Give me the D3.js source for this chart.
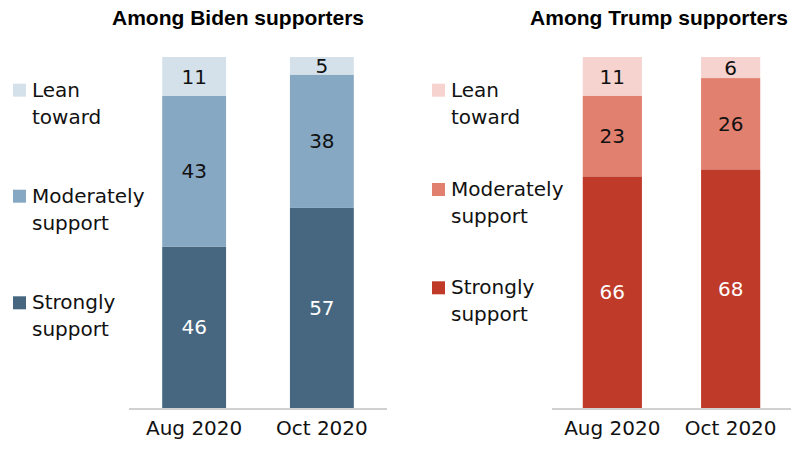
<!DOCTYPE html>
<html>
<head>
<meta charset="utf-8">
<script src="https://cdn.jsdelivr.net/npm/d3@7"></script>
<style>
  html, body { margin: 0; padding: 0; background: #fff; }
  svg { display: block; }
</style>
</head>
<body>
<svg id="chart" width="800" height="452"></svg>
<script>
// Survey periods (x categories)
const periods = ["Aug 2020", "Oct 2020"];

// Strength of support, bottom to top of each stacked bar
const levels = ["strong", "moderate", "lean"];
const levelLabels = [["Strongly", "support"], ["Moderately", "support"], ["Lean", "toward"]];

// Biden supporters (%)
const bidenStrong = [46, 57];
const bidenModerate = [43, 38];
const bidenLean = [11, 5];

// Trump supporters (%)
const trumpStrong = [66, 68];
const trumpModerate = [23, 26];
const trumpLean = [11, 6];

const panelTitles = ["Among Biden supporters", "Among Trump supporters"];

function rows(strong, moderate, lean) {
  return periods.map((p, i) => ({ period: p, strong: strong[i], moderate: moderate[i], lean: lean[i] }));
}

const panels = [
  {
    title: panelTitles[0],
    data: rows(bidenStrong, bidenModerate, bidenLean),
    colors: { strong: "#46677f", moderate: "#87a8c2", lean: "#d4e1ea" },
    textColors: { strong: "#ffffff", moderate: "#111111", lean: "#111111" },
    xRange: [129, 387],
    titleX: 238,
    legendX: 13,
    legendY: { lean: 96.7, moderate: 202.7, strong: 309.3 }
  },
  {
    title: panelTitles[1],
    data: rows(trumpStrong, trumpModerate, trumpLean),
    colors: { strong: "#bf3a28", moderate: "#e2806f", lean: "#f6d3cf" },
    textColors: { strong: "#ffffff", moderate: "#111111", lean: "#111111" },
    xRange: [552, 791],
    titleX: 659,
    legendX: 432,
    legendY: { lean: 96.7, moderate: 196, strong: 294.3 }
  }
];

const svg = d3.select("#chart");
const bodyFont = "'DejaVu Sans', sans-serif";

const y = d3.scaleLinear().domain([0, 100]).range([408, 57]);
const stack = d3.stack().keys(levels);

panels.forEach(panel => {
  const g = svg.append("g");

  const x = d3.scaleBand()
    .domain(periods)
    .range(panel.xRange)
    .paddingInner(0.5)
    .paddingOuter(0.26);

  // Title
  g.append("text")
    .attr("x", panel.titleX)
    .attr("y", 25)
    .attr("text-anchor", "middle")
    .style("font-family", "'Liberation Sans', Arial, sans-serif")
    .style("font-weight", "bold")
    .style("font-size", "21px")
    .style("fill", "#000")
    .text(panel.title);

  const series = stack(panel.data);

  // Stacked segments
  const layer = g.selectAll("g.layer")
    .data(series)
    .join("g")
    .attr("class", "layer")
    .attr("fill", s => panel.colors[s.key]);

  layer.selectAll("rect")
    .data(s => s)
    .join("rect")
    .attr("x", d => x(d.data.period))
    .attr("width", x.bandwidth())
    .attr("y", d => y(d[1]))
    .attr("height", d => y(d[0]) - y(d[1]));

  // Segment value labels
  series.forEach(s => {
    g.selectAll(null)
      .data(s)
      .join("text")
      .attr("x", d => x(d.data.period) + x.bandwidth() / 2)
      .attr("y", d => (y(d[0]) + y(d[1])) / 2)
      .attr("dy", "0.36em")
      .attr("text-anchor", "middle")
      .style("font-family", bodyFont)
      .style("font-size", "20px")
      .style("fill", panel.textColors[s.key])
      .text(d => d.data[s.key]);
  });

  // Baseline axis with period labels
  const axis = d3.axisBottom(x).tickSize(0).tickPadding(0);
  const ax = g.append("g")
    .attr("transform", `translate(0, 409)`)
    .call(axis);
  ax.select(".domain")
    .attr("d", `M${panel.xRange[0]},0H${panel.xRange[1]}`)
    .attr("stroke", "#d0d0d0")
    .attr("stroke-width", 2);
  ax.selectAll(".tick text")
    .attr("y", 26)
    .attr("dy", 0)
    .style("font-family", bodyFont)
    .style("font-size", "20px")
    .style("fill", "#111");

  // Legend
  levels.forEach((key, i) => {
    const base = panel.legendY[key];
    g.append("rect")
      .attr("x", panel.legendX)
      .attr("y", base - 13)
      .attr("width", 13)
      .attr("height", 13)
      .attr("fill", panel.colors[key]);
    const t = g.append("text")
      .attr("x", panel.legendX + 19)
      .attr("y", base)
      .style("font-family", bodyFont)
      .style("font-size", "20px")
      .style("fill", "#111");
    levelLabels[i].forEach((line, j) => {
      t.append("tspan")
        .attr("x", panel.legendX + 19)
        .attr("y", base + j * 27)
        .text(line);
    });
  });
});
</script>
</body>
</html>
